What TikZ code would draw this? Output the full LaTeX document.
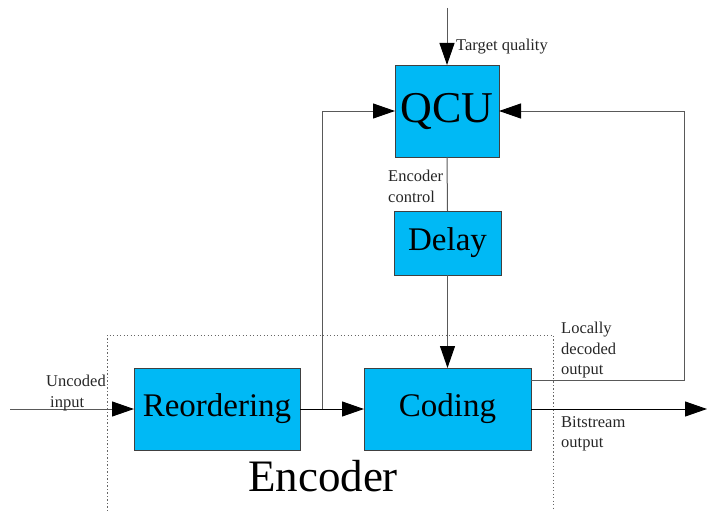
\documentclass[tikz,border=0pt]{standalone}
\usepackage{fontspec}
\setmainfont{Liberation Serif}
\usetikzlibrary{arrows.meta}
\definecolor{boxblue}{HTML}{00B9F5}
\tikzset{
  blk/.style={draw=black!75, line width=0.9pt, fill=boxblue, inner sep=0pt, outer sep=0pt, anchor=center},
  conn/.style={draw=black!65, line width=1pt},
  arr/.style={conn, -{Triangle[length=22pt,width=15pt,fill=black,color=black]}},
  lbl/.style={font=\fontsize{16.5}{20.5}\selectfont, inner sep=0pt, align=left, text=black!85},
  bigtxt/.style={font=\fontsize{33}{35}\selectfont}
}
\begin{document}
\begin{tikzpicture}[x=1pt,y=-1pt]
\useasboundingbox (0,0) rectangle (707,511);
% dotted encoder boundary
\draw[black!60, line width=0.9pt, dash pattern=on 1.3pt off 2.2pt] (107,511) -- (107,335) -- (553,335) -- (553,511);
% blocks
\node[blk, minimum width=104pt, minimum height=92pt, font=\fontsize{44}{46}\selectfont] (qcu) at (447,111) {QCU};
\node[blk, minimum width=107pt, minimum height=64pt, bigtxt] (delay) at (447.5,243) {Delay};
\node[blk, minimum width=166pt, minimum height=82pt, bigtxt] (reo) at (217,409) {Reordering};
\node[blk, minimum width=167pt, minimum height=82pt, bigtxt] (cod) at (447.5,409) {Coding};
% free ends
\coordinate (tq) at (447,8);
\coordinate (in) at (10,409);
\coordinate (out) at (707,409);
\coordinate (br) at (322,409);
\coordinate (fbc) at (684,111);
% connectors
\draw[arr] (tq) -- (qcu.north);
\draw[arr] (in) -- (reo.west);
\draw[arr, draw=black] (reo.east) -- (cod.west);
\draw[arr, draw=black] (cod.east) -- (out);
\draw[arr] (br) |- (qcu.west);
\draw[arr] ([yshift=29pt]cod.east) -| (fbc) -- (qcu.east);
\draw[conn] (qcu.south) -- (delay.north);
\draw[arr] (delay.south) -- (cod.north);
% labels
\node[lbl, anchor=west] (tql) at (456,46.5) {Target quality};
\node[lbl, anchor=north west] (ecl) at (388,170) {Encoder\\control};
\node[lbl, anchor=north west] (ucl) at (46,375) {Uncoded\\\hspace{4pt}input};
\node[lbl, anchor=north west] (ldl) at (561,322) {Locally\\decoded\\output};
\node[lbl, anchor=north west] (bsl) at (561,416) {Bitstream\\output};
\node[font=\fontsize{45}{47}\selectfont, inner sep=0pt] (enc) at (323,476) {Encoder};
\end{tikzpicture}
\end{document}
